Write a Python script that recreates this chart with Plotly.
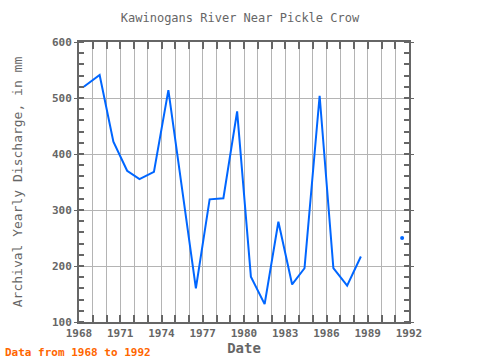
import plotly.graph_objects as go

years = [1968.35, 1969.5, 1970.5, 1971.5, 1972.4, 1973.45, 1974.5, 1975.5, 1976.5,
         1977.5, 1978.5, 1979.5, 1980.5, 1981.5, 1982.5, 1983.5, 1984.4, 1985.5,
         1986.5, 1987.5, 1988.5, 1989.5, 1990.5, 1991.5]
discharge = [520, 541, 422, 370, 355, 368, 514, 337, 160,
             319, 321, 476, 181, 132, 279, 167, 196, 504,
             196, 165, 217, None, None, 250]

# isolated points (no neighbours) shown as markers
iso_x, iso_y = [], []
for i, v in enumerate(discharge):
    if v is None:
        continue
    prev_ok = i > 0 and discharge[i - 1] is not None
    next_ok = i < len(discharge) - 1 and discharge[i + 1] is not None
    if not prev_ok and not next_ok:
        iso_x.append(years[i]); iso_y.append(v)

blue = "#0066ff"
gray = "#666666"
font = "DejaVu Sans Mono"

fig = go.Figure()
fig.add_trace(go.Scatter(x=years, y=discharge, mode="lines",
                         line=dict(color=blue, width=2), connectgaps=False,
                         showlegend=False, hoverinfo="skip"))
fig.add_trace(go.Scatter(x=iso_x, y=iso_y, mode="markers",
                         marker=dict(color=blue, size=4), showlegend=False))

fig.update_layout(
    width=480, height=360,
    margin=dict(l=79, r=71, t=42, b=38, autoexpand=False),
    paper_bgcolor="white", plot_bgcolor="white",
    title=dict(text="Kawinogans River Near Pickle Crow", x=0.5, xanchor="center",
               y=1 - 18 / 360, yanchor="middle",
               font=dict(family=font, size=12, color=gray)),
    xaxis=dict(range=[1968, 1992], tick0=1968, dtick=3, tickformat="d",
               automargin=False, ticklabelstandoff=0,
               showline=True, linecolor=gray, linewidth=2, mirror="ticks",
               ticks="inside", ticklen=7, tickcolor=gray, tickwidth=2,
               showgrid=True, gridcolor="#b4b4b4", gridwidth=1,
               minor=dict(dtick=1, tick0=1968, ticks="inside", ticklen=7,
                          tickcolor=gray, tickwidth=2, showgrid=True,
                          gridcolor="#b4b4b4", gridwidth=1),
               tickfont=dict(family=font, size=11, color=gray, weight="bold"),
               title=dict(text="Date", standoff=2,
                          font=dict(family=font, size=14, color=gray, weight="bold")),
               zeroline=False),
    yaxis=dict(range=[100, 600], tick0=100, dtick=100,
               automargin=False,
               showline=True, linecolor=gray, linewidth=2, mirror="ticks",
               ticks="outside", ticklen=3, tickcolor=gray, tickwidth=1,
               showgrid=True, gridcolor="#b4b4b4", gridwidth=1,
               minor=dict(dtick=20, tick0=100, ticks="inside", ticklen=5,
                          tickcolor=gray, tickwidth=2, showgrid=False),
               tickfont=dict(family=font, size=11, color=gray, weight="bold"),
               title=dict(text="Archival Yearly Discharge, in mm", standoff=26,
                          font=dict(family=font, size=13, color=gray)),
               zeroline=False),
    annotations=[dict(text="Data from 1968 to 1992", xref="paper", yref="paper",
                      x=-76/330, y=-30/280, xanchor="left", yanchor="middle",
                      showarrow=False,
                      font=dict(family=font, size=11, color="#ff6600", weight="bold"))],
)

fig.write_html("out.html", config={"displayModeBar": False},
               post_script="document.body.style.margin='0';")
